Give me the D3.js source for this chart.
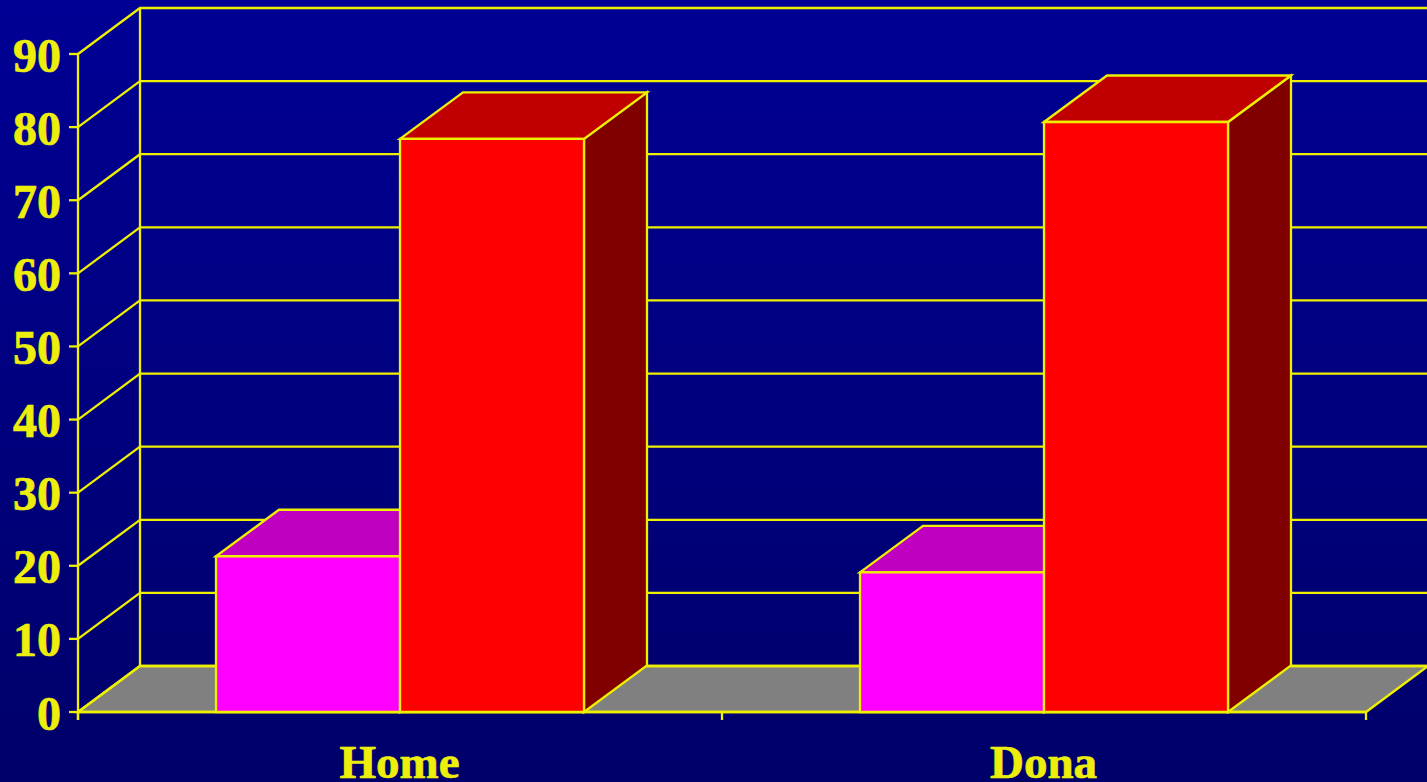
<!DOCTYPE html>
<html><head><meta charset="utf-8">
<script src="https://cdn.jsdelivr.net/npm/d3@7"></script>
<style>html,body{margin:0;padding:0;background:#000080;overflow:hidden}svg{display:block}</style>
</head><body><svg id="c" width="1427" height="782"></svg>
<script>
const categories = ["Home", "Dona"];
const seriesNames = ["A", "B"];
const seriesA = [21.3, 19.1];
const seriesB = [78.4, 80.7];
const yTicks = [0,10,20,30,40,50,60,70,80,90];

const W=1427,H=782;
const plotLeft=78,plotRight=1366,plotBottom=712,plotTop=54;
const depthX=62,depthY=-46,barDepthX=63,barDepthY=-46.5;
const YEL="#eef000",TXT="#eeee0c";
const colors={A:{front:"#ff00ff",top:"#c000c0",side:"#800080"},B:{front:"#ff0000",top:"#c00000",side:"#800000"}};

const svg=d3.select("#c");
const defs=svg.append("defs");
const grad=defs.append("linearGradient").attr("id","bg").attr("x1",0).attr("x2",0).attr("y1",0).attr("y2",1);
grad.append("stop").attr("offset","0%").attr("stop-color","#000094");
grad.append("stop").attr("offset","100%").attr("stop-color","#00006a");
svg.append("rect").attr("width",W).attr("height",H).attr("fill","url(#bg)");

const y=d3.scaleLinear().domain([0,90]).range([plotBottom,plotTop]);
const x0=d3.scaleBand().domain(categories).range([plotLeft,plotRight]);
const x1=d3.scaleBand().domain(seriesNames).range([0,x0.bandwidth()]).paddingInner(0).paddingOuter(0.75);
const line=d3.line();
const SW=2.3;
const poly=(pts,fill)=>svg.append("path").attr("d",line(pts)+"Z").attr("fill",fill).attr("stroke",YEL).attr("stroke-width",SW).attr("stroke-linejoin","miter");
const seg=(pts)=>svg.append("path").attr("d",line(pts)).attr("fill","none").attr("stroke",YEL).attr("stroke-width",SW);

// floor
poly([[plotLeft,plotBottom],[plotLeft+depthX,plotBottom+depthY],[plotRight+depthX,plotBottom+depthY],[plotRight,plotBottom]],"#808080");
// back wall + gridlines with their side-wall returns
seg([[plotLeft+depthX,y(90)+depthY],[plotLeft+depthX,plotBottom+depthY]]);
yTicks.forEach(t=>{
  seg([[plotLeft,y(t)],[plotLeft+depthX,y(t)+depthY],[plotRight+depthX,y(t)+depthY]]);
  seg([[plotLeft-9,y(t)],[plotLeft,y(t)]]);
});
// front axes
seg([[plotLeft,y(90)],[plotLeft,plotBottom+8]]);
seg([[plotLeft,plotBottom],[plotRight,plotBottom]]);
[plotLeft,x0("Dona"),plotRight].forEach(v=>seg([[v,plotBottom],[v,plotBottom+8]]));

// bars
categories.forEach((c,i)=>{
  [["A",seriesA[i]],["B",seriesB[i]]].forEach(([s,v])=>{
    const xa=x0(c)+x1(s),xb=xa+x1.bandwidth(),yt=y(v),col=colors[s];
    poly([[xb,plotBottom],[xb+barDepthX,plotBottom+barDepthY],[xb+barDepthX,yt+barDepthY],[xb,yt]],col.side);
    poly([[xa,yt],[xa+barDepthX,yt+barDepthY],[xb+barDepthX,yt+barDepthY],[xb,yt]],col.top);
    poly([[xa,yt],[xb,yt],[xb,plotBottom],[xa,plotBottom]],col.front);
  });
});

const font='"Liberation Serif","Times New Roman",serif';
svg.append("g").selectAll("text").data(yTicks).join("text")
  .attr("x",61).attr("y",d=>y(d)+17.5).attr("text-anchor","end")
  .attr("font-family",font).attr("font-weight","bold").attr("font-size",48).attr("fill",TXT)
  .attr("stroke",TXT).attr("stroke-width",0.7).text(d=>d);
svg.append("g").selectAll("text").data(categories).join("text")
  .attr("x",d=>x0(d)+x0.bandwidth()/2-0.5).attr("y",778).attr("text-anchor","middle")
  .attr("font-family",font).attr("font-weight","bold").attr("font-size",47).attr("fill",TXT)
  .attr("stroke",TXT).attr("stroke-width",0.7).text(d=>d);
</script></body></html>
